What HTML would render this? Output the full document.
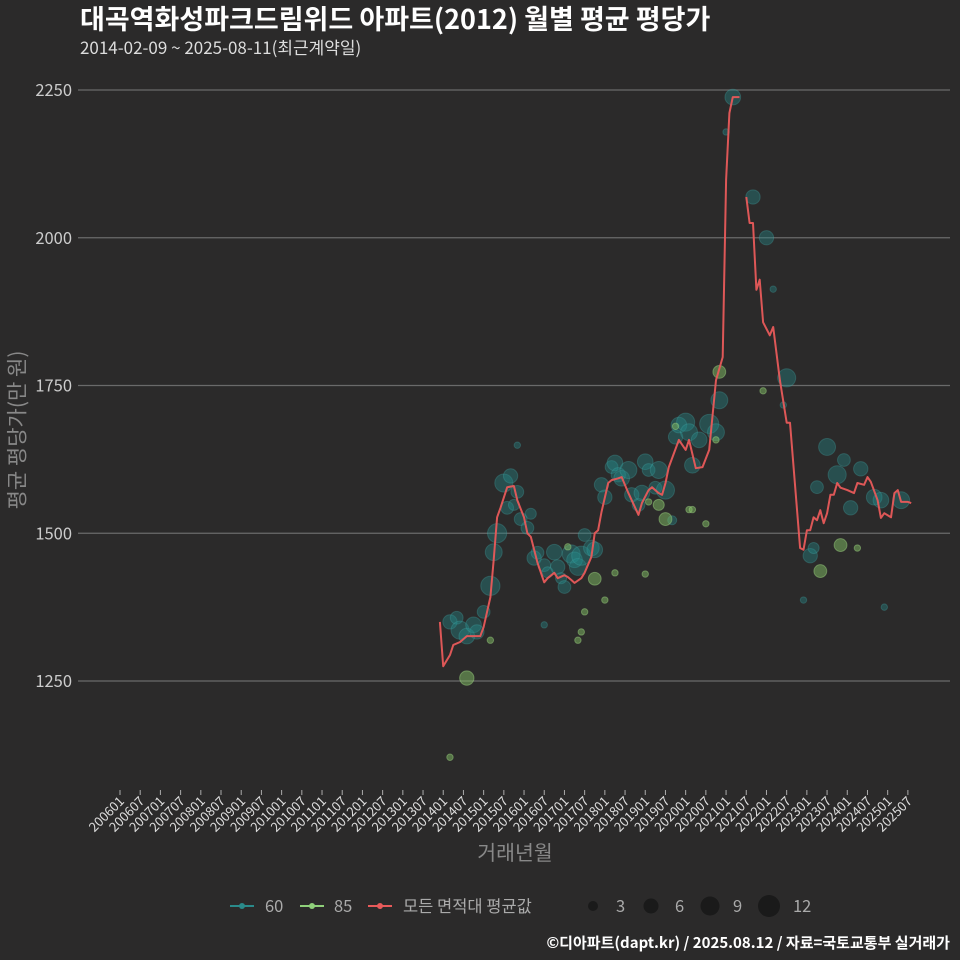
<!DOCTYPE html>
<html><head><meta charset="utf-8">
<style>
html,body{margin:0;padding:0;background:#2b2a2a;}
svg{display:block;font-family:"Noto Sans CJK KR","Liberation Sans",sans-serif;}
#ytitle{position:absolute;left:17px;top:430px;transform:translate(-50%,-50%) rotate(-90deg);white-space:nowrap;color:#888;font-size:21px;font-family:"Noto Sans CJK KR",sans-serif;line-height:1;}
</style></head>
<body>
<div style="position:relative;width:960px;height:960px;">
<svg id="chart" width="960" height="960" viewBox="0 0 960 960" xmlns="http://www.w3.org/2000/svg">
<rect width="960" height="960" fill="#2b2a2a"/>
<text x="80" y="29" fill="#ffffff" font-size="27" font-weight="bold">대곡역화성파크드림위드 아파트(2012) 월별 평균 평당가</text>
<text x="80" y="54" fill="#dddddd" font-size="17">2014-02-09 ~ 2025-08-11(최근계약일)</text>
<g id="grid"></g>
<g id="xaxis"></g>
<g id="bubbles"></g>
<g id="line"></g>
<text x="515" y="860" text-anchor="middle" fill="#888" font-size="20.5">거래년월</text>
<g>
  <g>
    <line x1="230" y1="906" x2="254" y2="906" stroke="#2a8a8a" stroke-width="2"/>
    <circle cx="242" cy="906" r="3" fill="#2a8a8a"/>
    <text x="265" y="912" fill="#aaa" font-size="16.5">60</text>
  </g>
  <g>
    <line x1="300" y1="906" x2="324" y2="906" stroke="#8fd07a" stroke-width="2"/>
    <circle cx="312" cy="906" r="3" fill="#8fd07a"/>
    <text x="334" y="912" fill="#aaa" font-size="16.5">85</text>
  </g>
  <g>
    <line x1="368" y1="906" x2="392" y2="906" stroke="#e85a5a" stroke-width="2"/>
    <circle cx="380" cy="906" r="3" fill="#e85a5a"/>
    <text x="403" y="912" fill="#aaa" font-size="16.5">모든 면적대 평균값</text>
  </g>
  <g>
    <circle cx="593" cy="906" r="5" fill="#1a1a1a"/><text x="616" y="912" fill="#aaa" font-size="16.5">3</text>
    <circle cx="651" cy="906" r="7.5" fill="#1a1a1a"/><text x="675" y="912" fill="#aaa" font-size="16.5">6</text>
    <circle cx="710" cy="906" r="9.5" fill="#1a1a1a"/><text x="733" y="912" fill="#aaa" font-size="16.5">9</text>
    <circle cx="769" cy="906" r="11" fill="#1a1a1a"/><text x="793" y="912" fill="#aaa" font-size="16.5">12</text>
  </g>
</g>
<text x="950" y="948" text-anchor="end" fill="#ffffff" font-size="15" font-weight="bold">©디아파트(dapt.kr) / 2025.08.12 / 자료=국토교통부 실거래가</text>
</svg>
<div id="ytitle">평균 평당가(만 원)</div>
</div>
<script>
const yTicks = [1250, 1500, 1750, 2000, 2250];
const lineMonths = [201312,201401,201403,201404,201406,201408,201412,201501,201503,201504,201505,201506,201508,201510,201511,201601,201602,201603,201605,201607,201608,201610,201611,201701,201702,201703,201704,201706,201707,201709,201710,201711,201712,201802,201803,201805,201806,201808,201811,201812,201902,201903,201905,201906,201907,201908,201911,202001,202002,202004,202006,202008,202010,202012,202101,202102,202103,202105,202106,202107,202108,202109,202110,202111,202112,202202,202203,202205,202207,202208,202211,202212,202301,202302,202303,202304,202305,202306,202307,202308,202309,202310,202311,202401,202403,202404,202406,202407,202408,202410,202411,202412,202502,202503,202504,202505,202507,202508];
const lineValues = [1350,1275,1294,1311,1316,1326,1326,1341,1392,1455,1527,1543,1578,1580,1556,1527,1500,1494,1450,1417,1424,1433,1424,1429,1426,1421,1416,1424,1433,1460,1500,1505,1536,1585,1590,1593,1595,1568,1531,1551,1573,1578,1568,1565,1585,1612,1658,1641,1658,1610,1612,1641,1759,1798,2098,2211,2238,2238,null,2069,2025,2025,1912,1929,1857,1835,1849,1759,1687,1687,1475,1472,1505,1505,1527,1522,1539,1517,1534,1565,1565,1585,1577,1573,1568,1585,1582,1595,1587,1556,1526,1534,1527,1568,1573,1553,1553,1551];
const teal60Months = [201403,201405,201406,201408,201410,201411,201501,201503,201504,201505,201507,201508,201509,201510,201511,201512,201602,201603,201604,201605,201607,201608,201610,201611,201612,201701,201703,201704,201705,201706,201707,201709,201710,201712,201801,201803,201804,201805,201806,201808,201809,201811,201812,201901,201902,201904,201905,201907,201909,201910,201911,202001,202002,202003,202005,202008,202010,202011,202103,202101,202109,202201,202203,202207,202206,202302,202303,202304,202307,202310,202402,202312,202405,202409,202411,202505,202412,202212,201607,201511];
const teal60Values = [1350,1357,1336,1326,1345,1333,1367,1411,1468,1500,1585,1543,1597,1548,1570,1524,1509,1533,1458,1467,1446,1434,1468,1443,1424,1409,1465,1455,1443,1462,1497,1475,1472,1582,1561,1612,1619,1599,1593,1607,1565,1548,1568,1621,1607,1577,1607,1573,1522,1663,1683,1688,1671,1615,1658,1685,1671,1725,2238,2179,2069,2000,1913,1763,1717,1462,1475,1578,1646,1599,1543,1624,1609,1561,1556,1556,1375,1387,1345,1649];
const teal60Counts = [5,4,8,6,6,5,4,9,7,9,8,4,5,3,4,4,4,3,5,4,4,3,6,5,3,4,8,6,7,9,4,6,6,5,5,4,6,5,6,7,5,4,6,6,4,4,7,8,2,5,6,8,7,6,6,9,7,7,6,1,5,5,1,8,1,5,3,4,7,8,5,4,5,6,6,7,1,1,1,1];
const green85Months = [201403,201408,201503,201702,201706,201705,201707,201710,201801,201804,201901,201902,201905,201907,201910,202002,202003,202007,202010,202011,202112,202305,202311,202404];
const green85Values = [1121,1255,1319,1477,1333,1319,1367,1423,1387,1433,1431,1553,1548,1524,1681,1540,1540,1516,1658,1773,1741,1436,1480,1475];
const green85Counts = [1,5,1,1,1,1,1,4,1,1,1,1,3,4,1,1,1,1,1,4,1,4,4,1];
const xTickLabels = [];
for (let y = 2006; y <= 2025; y++) { xTickLabels.push(y + "01"); xTickLabels.push(y + "07"); }

const NS = "http://www.w3.org/2000/svg";
function monthIndex(ym){ const y=Math.floor(ym/100), m=ym%100; return (y-2006)*12 + (m-1); }
function xScale(ym){ return 120 + monthIndex(ym)*3.367; }
function yScale(v){ return 90 + (2250 - v)*0.591; }
function rScale(n){ return Math.sqrt(n)*3.2; }
function mk(tag, attrs, parent){ const e=document.createElementNS(NS,tag); for(const k in attrs) e.setAttribute(k,attrs[k]); parent.appendChild(e); return e; }

const grid = document.getElementById('grid');
yTicks.forEach(t => {
  const ln = mk('line',{x1:78,x2:950,y1:yScale(t),y2:yScale(t),stroke:'#6a6a6a','stroke-width':1.2},grid);
  
  
  const tx = mk('text',{x:72,y:yScale(t)+6,'text-anchor':'end',fill:'#cccccc','font-size':16.5},grid);
  tx.textContent = t;
  
  
});

const xa = document.getElementById('xaxis');
xTickLabels.forEach(lbl => {
  const x = xScale(parseInt(lbl,10));
  const tk = mk('line',{x1:x,x2:x,y1:790,y2:795,stroke:'#aaa','stroke-width':1},xa);
  
  
  const tx = mk('text',{x:0,y:0,transform:`translate(${x+5},${802}) rotate(-45)`,'text-anchor':'end',fill:'#dddddd','font-size':13},xa);
  tx.textContent = lbl;
  
  
});

const bub = document.getElementById('bubbles');
teal60Months.forEach((m,i) => {
  const c = mk('circle',{cx:xScale(m),cy:yScale(teal60Values[i]),r:rScale(teal60Counts[i]),fill:'rgba(38,140,140,0.38)',stroke:'rgba(70,170,170,0.3)','stroke-width':1},bub);
  
  
});
green85Months.forEach((m,i) => {
  const c = mk('circle',{cx:xScale(m),cy:yScale(green85Values[i]),r:rScale(green85Counts[i]),fill:'rgba(130,190,100,0.5)',stroke:'rgba(160,215,130,0.45)','stroke-width':1},bub);
  
  
});

const lg = document.getElementById('line');
let d = '', pen = false;
lineMonths.forEach((m,i) => {
  const v = lineValues[i];
  if (v === null) { pen = false; return; }
  d += (pen ? 'L' : 'M') + xScale(m).toFixed(1) + ',' + yScale(v).toFixed(1);
  pen = true;
});
const p = mk('path',{d:d,fill:'none',stroke:'#e85a5a','stroke-width':2,'stroke-linejoin':'round','stroke-opacity':0.95},lg);


</script>
</body></html>
